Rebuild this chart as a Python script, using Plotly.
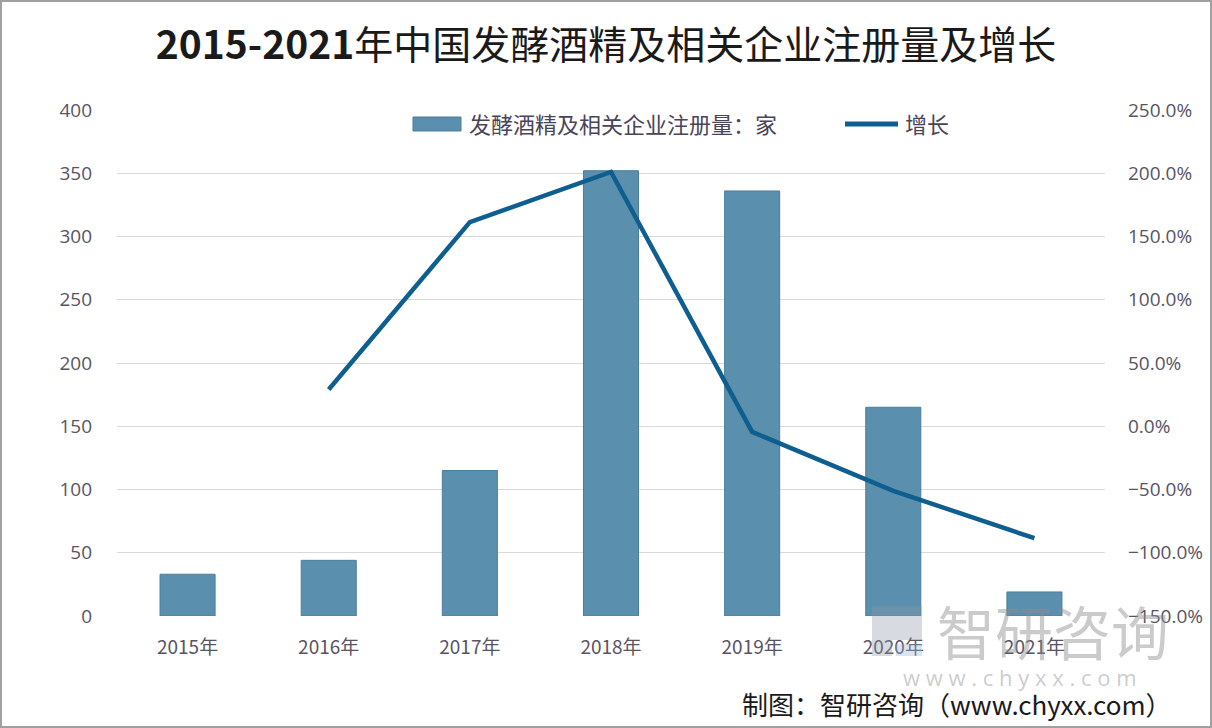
import plotly.graph_objects as go

years = ["2015年", "2016年", "2017年", "2018年", "2019年", "2020年", "2021年"]
registrations = [33, 44, 115, 352, 336, 165, 19]
growth_pct = [None, 29.0, 161.4, 201.0, -4.5, -51.0, -88.5]

bar_name = "发酵酒精及相关企业注册量：家"
line_name = "增长"

font_cjk = "Noto Sans CJK SC, Microsoft YaHei, sans-serif"
font_num = "Open Sans, sans-serif"
tick_color = "#595463"
bar_color = "#5b8fae"
line_color = "#0e5f8f"

W, H = 1212, 728
L, R, T, B = 117, 107, 110, 112
PW, PH = W - L - R, H - T - B


def px(x):
    return (x - L) / PW


def py(y):
    return (H - B - y) / PH


fig = go.Figure()
fig.add_trace(go.Bar(
    x=years, y=registrations, name=bar_name,
    marker=dict(color=bar_color, line=dict(color="#4a7d9c", width=1)),
    yaxis="y", showlegend=False,
))
fig.add_trace(go.Scatter(
    x=years, y=growth_pct, name=line_name, mode="lines",
    line=dict(color=line_color, width=4.5),
    yaxis="y2", showlegend=False,
))

fig.update_layout(
    width=W, height=H,
    paper_bgcolor="#ffffff", plot_bgcolor="#ffffff",
    margin=dict(l=L, r=R, t=T, b=B, autoexpand=False),
    bargap=0.61,
    title=dict(
        text="<b>2015-2021</b>年中国发酵酒精及相关企业注册量及增长",
        x=0.5, xanchor="center", y=1 - 45 / H, yanchor="middle",
        font=dict(family=font_cjk, size=39, color="#1a1a1a"),
    ),
    xaxis=dict(
        showgrid=False, showline=False, ticks="", automargin=False,
        tickfont=dict(family=font_cjk, size=19, color=tick_color),
        ticklabelstandoff=18,
    ),
    yaxis=dict(
        range=[0, 400], dtick=50, showgrid=True, gridcolor="#d9d9d9", gridwidth=1,
        zeroline=False, showline=False, automargin=False,
        tickfont=dict(family=font_num, size=19, color=tick_color),
        ticklabelstandoff=24,
    ),
    yaxis2=dict(
        range=[-150, 250], dtick=50, overlaying="y", side="right",
        showgrid=False, zeroline=False, showline=False, automargin=False,
        tickformat=".1f", ticksuffix="%",
        tickfont=dict(family=font_num, size=19, color=tick_color),
        ticklabelstandoff=22,
    ),
    showlegend=False,
)

# custom legend
fig.add_shape(type="rect", xref="paper", yref="paper",
              x0=px(413), x1=px(461), y0=py(131), y1=py(117),
              fillcolor=bar_color, line=dict(color="#4a7d9c", width=1))
fig.add_annotation(xref="paper", yref="paper", x=px(467), y=py(123),
                   xanchor="left", yanchor="middle", text=bar_name, showarrow=False,
                   font=dict(family=font_cjk, size=22, color="#4a4458"))
fig.add_shape(type="line", xref="paper", yref="paper",
              x0=px(845), x1=px(898), y0=py(124), y1=py(124),
              line=dict(color=line_color, width=5))
fig.add_annotation(xref="paper", yref="paper", x=px(903), y=py(123),
                   xanchor="left", yanchor="middle", text=line_name, showarrow=False,
                   font=dict(family=font_cjk, size=22, color="#4a4458"))

# watermark logo
wm = "rgba(140,150,165,0.35)"
fig.add_shape(type="path", xref="paper", yref="paper",
              path=f"M {px(872)} {py(606)} L {px(922)} {py(606)} L {px(922)} {py(640)} "
                   f"L {px(892)} {py(640)} L {px(892)} {py(656)} L {px(872)} {py(656)} Z",
              fillcolor=wm, line=dict(width=0))
fig.add_shape(type="rect", xref="paper", yref="paper",
              x0=px(896), x1=px(922), y0=py(656), y1=py(644),
              fillcolor="rgba(150,180,215,0.35)", line=dict(width=0))
fig.add_annotation(
    xref="paper", yref="paper", x=px(1053), y=py(630), xanchor="center", yanchor="middle",
    text="智研咨询", showarrow=False,
    font=dict(family=font_cjk, size=58, color="rgba(140,140,140,0.45)"),
)
fig.add_annotation(
    xref="paper", yref="paper", x=px(1020), y=py(677), xanchor="center", yanchor="middle",
    text="w w w . c h y x x . c o m", showarrow=False,
    font=dict(family=font_num, size=22, color="rgba(140,140,140,0.45)"),
)
# source
fig.add_annotation(
    xref="paper", yref="paper", x=px(1174), y=py(704), xanchor="right", yanchor="middle",
    text="制图：智研咨询（www.chyxx.com）", showarrow=False,
    font=dict(family=font_cjk, size=26, color="#1a1a1a"),
)
# outer border
fig.add_shape(type="rect", xref="paper", yref="paper",
              x0=px(1), x1=px(W - 1), y0=py(H - 1), y1=py(1),
              line=dict(color="#a0a0a0", width=2))

fig.write_html("out.html", config={"displayModeBar": False},
               post_script="document.body.style.margin='0';")
